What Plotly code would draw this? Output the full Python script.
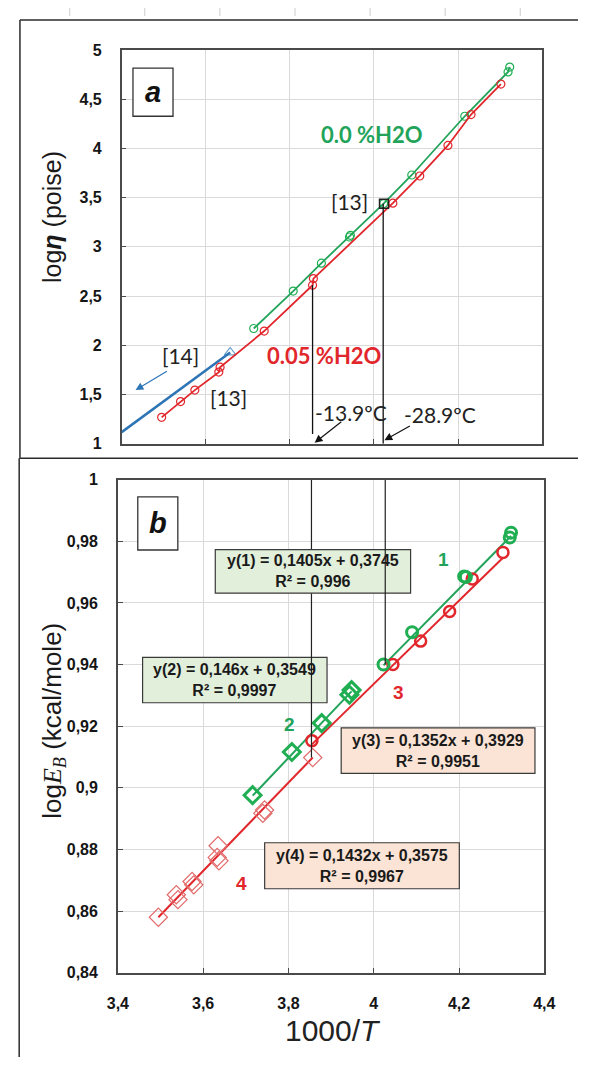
import plotly.graph_objects as go

# ---------------- data: panel (a)  log(eta) vs 1000/T ----------------
A_GREEN_X = [3.714, 3.808, 3.875, 3.942, 3.944, 4.023, 4.090, 4.216, 4.319, 4.323]
A_GREEN_Y = [2.170, 2.550, 2.834, 3.100, 3.117, 3.440, 3.730, 4.327, 4.777, 4.827]
A_RED_X = [3.495, 3.540, 3.574, 3.631, 3.634, 3.739, 3.854, 3.856, 4.045, 4.109, 4.176, 4.231, 4.302]
A_RED_Y = [1.267, 1.427, 1.544, 1.727, 1.777, 2.144, 2.610, 2.677, 3.444, 3.720, 4.030, 4.344, 4.654]
A_REF14_X = [3.400, 3.658]
A_REF14_Y = [1.117, 1.927]
A_REF13_X = [4.024]
A_REF13_Y = [3.437]
A_TEMP_X = [3.854, 4.022]          # 1000/T of -13.9 C and -28.9 C
A_TEMP_LABELS = ["-13.9ºC", "-28.9ºC"]
A_YTICKS = [1, 1.5, 2, 2.5, 3, 3.5, 4, 4.5, 5]
A_YTICKTEXT = ["1", "1,5", "2", "2,5", "3", "3,5", "4", "4,5", "5"]

# ---------------- data: panel (b)  log(E_B) vs 1000/T ----------------
B1_X = [4.023, 4.090, 4.212, 4.216, 4.319, 4.322]
B1_Y = [0.9400, 0.9505, 0.9686, 0.9684, 0.9812, 0.9828]
B2_X = [3.716, 3.808, 3.878, 3.943, 3.948]
B2_Y = [0.8976, 0.9116, 0.9210, 0.9302, 0.9317]
B3_X = [3.855, 4.045, 4.110, 4.178, 4.231, 4.303]
B3_Y = [0.9153, 0.9400, 0.9476, 0.9572, 0.9678, 0.9764]
B4_X = [3.495, 3.537, 3.541, 3.574, 3.578, 3.633, 3.635, 3.637, 3.740, 3.744, 3.857]
B4_Y = [0.8580, 0.8653, 0.8637, 0.8696, 0.8685, 0.8774, 0.8812, 0.8763, 0.8917, 0.8928, 0.9098]
FIT_SLOPE = [0.1405, 0.146, 0.1352, 0.1432]
FIT_INTERCEPT = [0.3745, 0.3549, 0.3929, 0.3575]
FIT_R2 = ["0,996", "0,9997", "0,9951", "0,9967"]
B_YTICKS = [0.84, 0.86, 0.88, 0.90, 0.92, 0.94, 0.96, 0.98, 1.0]
B_YTICKTEXT = ["0,84", "0,86", "0,88", "0,9", "0,92", "0,94", "0,96", "0,98", "1"]
X_TICKS = [3.4, 3.6, 3.8, 4.0, 4.2, 4.4]
X_TICKTEXT = ["3,4", "3,6", "3,8", "4", "4,2", "4,4"]

# ---------------- styling ----------------
W, H = 589, 1066
GREEN = "#22a35a"
GREEN_M = "#1fae52"
RED = "#e1262c"
RED_L = "#e26a6a"
BLUE = "#2e75b6"
DARK = "#4a4a4a"
GRID = "#dadada"


def px(x):
    return x / W


def py(y):
    return 1 - y / H


def comma(v):
    return str(v).replace(".", ",")


fig = go.Figure()

# ---- panel (a) traces ----
fig.add_trace(go.Scatter(x=A_REF14_X, y=A_REF14_Y, mode="lines+markers", xaxis="x", yaxis="y",
                         line=dict(color=BLUE, width=2.5),
                         marker=dict(symbol=["circle", "triangle-up-open"], size=[0, 10],
                                     color=BLUE, line=dict(width=1.2, color=BLUE)),
                         showlegend=False))
fig.add_trace(go.Scatter(x=A_GREEN_X, y=A_GREEN_Y, mode="lines+markers", xaxis="x", yaxis="y",
                         line=dict(color=GREEN, width=1.8),
                         marker=dict(symbol="circle-open", size=8, color=GREEN_M, line=dict(width=1.2)),
                         showlegend=False))
fig.add_trace(go.Scatter(x=A_RED_X, y=A_RED_Y, mode="lines+markers", xaxis="x", yaxis="y",
                         line=dict(color=RED, width=1.8),
                         marker=dict(symbol="circle-open", size=8, color=RED, line=dict(width=1.2)),
                         showlegend=False))
fig.add_trace(go.Scatter(x=A_REF13_X, y=A_REF13_Y, mode="markers", xaxis="x", yaxis="y",
                         marker=dict(symbol="square-open", size=9, color="#222", line=dict(width=1.5)),
                         showlegend=False))

# ---- panel (b) trend lines ----
series_b = [(B1_X, B1_Y), (B2_X, B2_Y), (B3_X, B3_Y), (B4_X, B4_Y)]
line_cols = [GREEN, GREEN, RED, RED]
for i in [3, 2, 1, 0]:
    xs = series_b[i][0]
    x0, x1 = min(xs), max(xs)
    fig.add_trace(go.Scatter(x=[x0, x1],
                             y=[FIT_SLOPE[i] * x0 + FIT_INTERCEPT[i], FIT_SLOPE[i] * x1 + FIT_INTERCEPT[i]],
                             mode="lines", xaxis="x2", yaxis="y2",
                             line=dict(color=line_cols[i], width=2), showlegend=False))

# ---- panel (b) markers ----
fig.add_trace(go.Scatter(x=B4_X, y=B4_Y, mode="markers", xaxis="x2", yaxis="y2",
                         marker=dict(symbol="diamond-open", size=14, color=RED_L, line=dict(width=1.2)),
                         showlegend=False))
fig.add_trace(go.Scatter(x=B3_X, y=B3_Y, mode="markers", xaxis="x2", yaxis="y2",
                         marker=dict(symbol="circle-open", size=11, color=RED, line=dict(width=2.5)),
                         showlegend=False))
fig.add_trace(go.Scatter(x=B2_X, y=B2_Y, mode="markers", xaxis="x2", yaxis="y2",
                         marker=dict(symbol="diamond-open", size=13, color=GREEN_M, line=dict(width=3)),
                         showlegend=False))
fig.add_trace(go.Scatter(x=B1_X, y=B1_Y, mode="markers", xaxis="x2", yaxis="y2",
                         marker=dict(symbol="circle-open", size=11, color=GREEN_M, line=dict(width=3)),
                         showlegend=False))

axis_common = dict(showline=True, linecolor=DARK, linewidth=1.5, mirror=True,
                   showgrid=True, gridcolor=GRID, gridwidth=1, zeroline=False,
                   ticks="inside", ticklen=5, tickcolor=DARK, tickwidth=1,
                   tickfont=dict(family="Liberation Sans", size=16, color="#151515", weight="bold"))

fig.update_layout(
    width=W, height=H, margin=dict(l=0, r=0, t=0, b=0), autosize=False,
    paper_bgcolor="white", plot_bgcolor="white", showlegend=False,
    xaxis=dict(axis_common, domain=[px(115), px(551.7)], range=[3.4, 4.4], anchor="y",
               tickvals=X_TICKS, ticktext=X_TICKTEXT, showticklabels=False),
    yaxis=dict(axis_common, domain=[py(442.7), py(42.7)], range=[1, 5], anchor="x",
               tickvals=A_YTICKS, ticktext=A_YTICKTEXT, ticklabelstandoff=15),
    xaxis2=dict(axis_common, domain=[px(111), px(554)], range=[3.4, 4.4], anchor="y2",
                tickvals=X_TICKS, ticktext=X_TICKTEXT, ticklabelstandoff=15),
    yaxis2=dict(axis_common, domain=[py(980.3), py(479.3)], range=[0.84, 1.0], anchor="x2",
                tickvals=B_YTICKS, ticktext=B_YTICKTEXT, ticklabelstandoff=15),
)

shapes = []
# faint marks at the very top of the page
for k in range(7):
    xx = 61 + k * 78
    shapes.append(dict(type="line", xref="paper", yref="paper", x0=px(xx), x1=px(xx),
                       y0=py(0), y1=py(8), line=dict(color="#cccccc", width=1)))
# outer frames of the two panels
frame = dict(color="#2b2b2b", width=1.5)
shapes += [
    dict(type="line", xref="paper", yref="paper", x0=px(9.3), x1=1.0, y0=py(12.3), y1=py(12.3), line=frame),
    dict(type="line", xref="paper", yref="paper", x0=px(9.3), x1=px(9.3), y0=py(12.3), y1=py(457), line=frame),
    dict(type="line", xref="paper", yref="paper", x0=px(8.5), x1=1.0, y0=py(457.5), y1=py(457.5), line=frame),
    dict(type="line", xref="paper", yref="paper", x0=px(8.5), x1=px(8.5), y0=py(457.5), y1=0, line=frame),
]
# panel letter boxes
shapes.append(dict(type="rect", xref="paper", yref="paper", x0=px(126.7), x1=px(168.3),
                   y0=py(110), y1=py(61), line=dict(color="#333", width=1.3), fillcolor="white"))
shapes.append(dict(type="rect", xref="paper", yref="paper", x0=px(131.7), x1=px(173.3),
                   y0=py(550.8), y1=py(496.7), line=dict(color="#333", width=1.3), fillcolor="white"))
# vertical temperature lines in panel (a)
shapes.append(dict(type="line", xref="x", yref="y", x0=A_TEMP_X[0], x1=A_TEMP_X[0],
                   y0=1.097, y1=A_RED_Y[6], line=dict(color="#111", width=1.3)))
shapes.append(dict(type="line", xref="x", yref="y", x0=A_TEMP_X[1], x1=A_TEMP_X[1],
                   y0=1.0, y1=A_REF13_Y[0], line=dict(color="#111", width=1.3)))

# equation boxes in panel (b)
GREEN_FILL = "#e2efda"
PEACH_FILL = "#fbe4d5"
boxes = [  # (x0, x1, ytop, ybottom) pixels
    (212.2, 415.1, 550.4, 594.7),
    (136.7, 328.3, 660.0, 706.0),
    (343.0, 544.3, 731.5, 777.7),
    (263.5, 465.7, 848.3, 895.0),
]
box_fill = [GREEN_FILL, GREEN_FILL, PEACH_FILL, PEACH_FILL]


def box_shape(i):
    b = boxes[i]
    return dict(type="rect", xref="paper", yref="paper", x0=px(b[0]), x1=px(b[1]),
                y0=py(b[3]), y1=py(b[2]), line=dict(color="#3a3a3a", width=1.2),
                fillcolor=box_fill[i])


shapes.append(box_shape(1))
# line 1 (bottom) - drawn over box 2, under box 1
shapes.append(dict(type="line", xref="x2", yref="y2", x0=3.854, x1=3.854,
                   y0=B4_Y[-1], y1=1.0, line=dict(color="#222", width=1.2)))
shapes.append(box_shape(0))
shapes.append(box_shape(2))
shapes.append(box_shape(3))
shapes.append(dict(type="line", xref="x2", yref="y2", x0=4.027, x1=4.027,
                   y0=B1_Y[0], y1=1.0, line=dict(color="#222", width=1.2)))
fig.update_layout(shapes=shapes)

C = dict(xanchor="center", yanchor="middle", showarrow=False)
ann = []
# panel letters
ann.append(dict(C, text="<b><i>a</i></b>", xref="paper", yref="paper", x=px(147.5), y=py(85.5),
                font=dict(family="Liberation Sans", size=29, color="#111")))
ann.append(dict(C, text="<b><i>b</i></b>", xref="paper", yref="paper", x=px(152.5), y=py(523.7),
                font=dict(family="Liberation Sans", size=29, color="#111")))
# axis titles
ann.append(dict(C, text="log<b><i>η</i></b> (poise)", xref="paper", yref="paper", x=px(42), y=py(212),
                textangle=-90, font=dict(family="Liberation Sans", size=25, color="#1a1a1a")))
ann.append(dict(C, text="log<span style='font-family:Liberation Serif'><i>E</i><sub><i>B</i></sub></span> (kcal/mole)",
                xref="paper", yref="paper", x=px(44), y=py(724), textangle=-90,
                font=dict(family="Liberation Sans", size=26, color="#1a1a1a")))
ann.append(dict(C, text="1000/<i>T</i>", xref="paper", yref="paper", x=px(335), y=py(1039),
                font=dict(family="Liberation Sans", size=30, color="#222")))

# panel (a) labels
lab = dict(family="Lato", size=21, color="#222")
ann.append(dict(C, text="[14]", xref="x", yref="y", x=3.539, y=1.897, font=lab))
ann.append(dict(C, text="[13]", xref="x", yref="y", x=3.655, y=1.47, font=lab))
ann.append(dict(C, text="[13]", xref="x", yref="y", x=3.942, y=3.457, font=lab))
ann.append(dict(C, text="<b>0.0 %H2O</b>", xref="x", yref="y", x=3.995, y=4.137,
                font=dict(family="Lato", size=22, color=GREEN)))
ann.append(dict(C, text="<b>0.05 %H2O</b>", xref="x", yref="y", x=3.881, y=1.897,
                font=dict(family="Lato", size=22, color=RED)))
ann.append(dict(C, text=A_TEMP_LABELS[0], xref="x", yref="y", x=A_TEMP_X[0], y=1.319, font=lab))
ann[-1]["xanchor"] = "left"
ann.append(dict(C, text=A_TEMP_LABELS[1], xref="x", yref="y", x=4.066, y=1.294, font=lab))
ann[-1]["xanchor"] = "left"
# arrows
ann.append(dict(text="", xref="x", yref="y", axref="x", ayref="y", x=3.859, y=1.01, ax=3.926, ay=1.234,
                showarrow=True, arrowhead=2, arrowsize=1.3, arrowwidth=1.2, arrowcolor="#111"))
ann.append(dict(text="", xref="x", yref="y", axref="x", ayref="y", x=4.025, y=1.034, ax=4.089, ay=1.187,
                showarrow=True, arrowhead=2, arrowsize=1.3, arrowwidth=1.2, arrowcolor="#111"))
ann.append(dict(text="", xref="x", yref="y", axref="x", ayref="y", x=3.433, y=1.544, ax=3.511, ay=1.744,
                showarrow=True, arrowhead=2, arrowsize=1.3, arrowwidth=1.2, arrowcolor=BLUE))

# equation texts
for i in range(4):
    b = boxes[i]
    txt = "<b>y({}) = {}x + {}<br>R² = {}</b>".format(i + 1, comma(FIT_SLOPE[i]), comma(FIT_INTERCEPT[i]), FIT_R2[i])
    ann.append(dict(C, text=txt, xref="paper", yref="paper", x=px((b[0] + b[1]) / 2), y=py((b[2] + b[3]) / 2),
                    font=dict(family="Liberation Sans", size=16, color="#1a1a1a")))


def num_font(c):
    return dict(family="Liberation Sans", size=19, color=c)


# series numbers
ann.append(dict(C, text="<b>1</b>", xref="x2", yref="y2", x=4.163, y=0.9742, font=num_font(GREEN)))
ann.append(dict(C, text="<b>2</b>", xref="x2", yref="y2", x=3.8025, y=0.9205, font=num_font(GREEN)))
ann.append(dict(C, text="<b>3</b>", xref="x2", yref="y2", x=4.058, y=0.9308, font=num_font(RED)))
ann.append(dict(C, text="<b>4</b>", xref="x2", yref="y2", x=3.69, y=0.8688, font=num_font(RED)))

fig.update_layout(annotations=ann)
fig.write_html("out.html")
